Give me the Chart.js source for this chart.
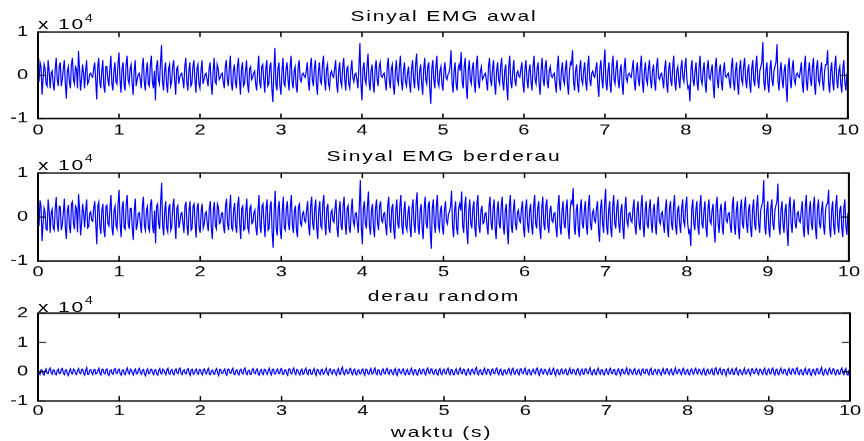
<!DOCTYPE html>
<html><head><meta charset="utf-8">
<script src="https://cdn.jsdelivr.net/npm/chart.js@4.4.1/dist/chart.umd.min.js"></script>
<style>
html,body{margin:0;padding:0;background:#fff;overflow:hidden;width:864px;height:441px;}
#wrap{position:absolute;left:0;top:0;width:864px;height:613px;transform:scaleY(0.7194);transform-origin:0 0;}
canvas{position:absolute;left:0;top:0;}
.t{position:absolute;font-family:"Liberation Sans",Arial,sans-serif;font-size:21px;line-height:22px;letter-spacing:1.8px;color:#000;white-space:nowrap;}
.c{left:0;width:888px;text-align:center;}
.e sup{font-size:14px;position:relative;top:-3px;letter-spacing:0;}
</style></head><body>
<div id="wrap">
<canvas id="c1" width="864" height="613"></canvas>
<canvas id="c2" width="864" height="613"></canvas>
<canvas id="c3" width="864" height="613"></canvas>
<div class="t c" style="top:11px">Sinyal EMG awal</div>
<div class="t c" style="top:206px">Sinyal EMG berderau</div>
<div class="t c" style="top:400px">derau random</div>
<div class="t" style="top:589px;left:0;width:883px;text-align:center">waktu (s)</div>
<div class="t e" style="top:17px;left:38px">x 10<sup>4</sup></div>
<div class="t e" style="top:212px;left:38px">x 10<sup>4</sup></div>
<div class="t e" style="top:409px;left:38px">x 10<sup>4</sup></div>
</div>
<script>
// samples are read every 0.0125 s: "main" readings at even steps, "mid" readings between them
const dt = 0.0125;
const xTicks = [0,1,2,3,4,5,6,7,8,9,10];

// Sinyal EMG awal (x 10^4)
const emgAwal = [
0.05,0.3,-0.45,0.25,-0.2,0.35,-0.3,0.1,-0.35,0.4,-0.25,0.3,-0.1,0.35,-0.54,0.2,-0.3,0.4,-0.2,0.15,0.56,-0.35,0.25,-0.3,0.35,-0.15,0.05,-0.05,0.3,-0.56,0.4,-0.3,0.35,-0.4,0.2,-0.25,0.45,-0.35,0.3,-0.2,
0.53,-0.4,0.3,-0.35,0.45,-0.2,0.25,-0.45,0.35,-0.1,0.05,-0.3,0.4,-0.35,0.3,-0.25,0.45,-0.3,-0.58,0.35,-0.2,0.70,-0.35,0.3,-0.4,0.25,-0.15,0.35,-0.45,0.2,-0.05,0.05,-0.3,0.4,-0.35,0.3,-0.2,0.35,-0.4,0.25,
-0.3,0.35,-0.1,0.05,-0.25,0.3,-0.45,0.4,-0.2,0.15,-0.05,0.05,-0.3,0.35,-0.25,0.45,-0.35,0.25,-0.3,0.4,-0.45,0.3,-0.2,0.35,-0.4,0.2,-0.05,0.1,-0.35,0.45,-0.3,0.25,-0.4,0.35,-0.2,0.3,-0.62,0.63,-0.35,0.3,
-0.45,0.4,-0.25,0.3,-0.35,0.45,-0.3,0.2,-0.4,0.35,-0.15,0.05,-0.05,0.3,-0.35,0.4,-0.25,0.35,-0.45,0.3,-0.2,0.45,-0.35,0.25,-0.3,0.1,-0.05,0.35,-0.4,0.3,-0.25,0.4,-0.35,0.2,-0.3,0.35,-0.15,0.05,-0.3,0.74,
-0.58,0.3,-0.2,0.5,-0.35,0.25,-0.4,0.35,-0.25,0.3,-0.05,0.05,-0.35,0.4,-0.3,0.25,-0.45,0.35,-0.2,0.45,-0.35,0.3,-0.25,0.2,-0.4,0.35,-0.3,0.5,-0.35,0.25,-0.45,0.4,-0.2,0.3,-0.66,0.35,-0.3,0.45,-0.25,0.2,
-0.35,0.3,-0.1,0.05,0.58,-0.4,0.3,-0.35,0.25,0.54,-0.3,0.4,-0.55,0.35,-0.2,0.3,-0.4,0.45,-0.3,0.2,-0.05,0.05,-0.35,0.4,-0.25,0.35,-0.45,0.3,-0.2,0.4,-0.35,0.25,-0.58,0.45,-0.3,0.35,-0.25,0.1,-0.05,0.3,
-0.4,0.35,-0.3,0.25,-0.35,0.45,-0.2,0.3,-0.45,0.4,-0.25,0.35,-0.3,0.2,-0.05,0.05,-0.4,0.45,-0.35,0.3,-0.2,0.35,-0.45,0.3,0.58,-0.35,0.25,-0.4,0.35,-0.2,0.3,-0.35,0.45,-0.25,0.1,-0.05,0.3,-0.5,0.35,-0.3,
0.6,-0.35,0.3,-0.4,0.45,-0.2,0.35,-0.3,0.25,-0.45,0.4,-0.15,0.05,-0.05,0.35,-0.35,0.3,-0.25,0.45,-0.4,0.3,-0.2,0.35,-0.3,0.25,-0.35,0.4,-0.1,0.05,-0.3,0.35,-0.4,0.3,-0.25,0.45,-0.35,0.2,-0.3,0.35,-0.15,
0.4,-0.3,-0.6,0.35,-0.25,0.3,-0.35,0.45,-0.2,0.3,-0.4,0.35,-0.1,0.25,-0.53,0.4,-0.3,0.25,-0.35,0.3,-0.05,0.05,-0.3,0.4,-0.35,0.3,-0.45,0.35,-0.2,0.4,-0.3,0.25,-0.4,0.35,-0.25,0.45,-0.3,0.2,0.77,-0.35,
0.3,-0.4,0.35,-0.25,0.2,0.72,-0.35,0.3,-0.3,0.25,-0.62,0.4,-0.3,0.35,-0.2,0.05,-0.05,0.3,-0.4,0.45,-0.35,0.3,-0.25,0.4,-0.45,0.35,-0.2,0.3,-0.35,0.25,0.58,-0.4,0.3,-0.35,0.45,-0.3,0.2,-0.4,0.35,-0.35,0.05
];
const emgAwalMid = [
-0.15,0.2,-0.1,0.15,-0.25,0.1,0.05,-0.2,0.15,-0.1,0.2,-0.25,0.15,-0.2,0.1,-0.15,0.25,-0.1,0.2,-0.3,0.15,-0.1,0.05,0.1,-0.2,0.02,-0.02,0.15,-0.1,0.2,-0.15,0.1,-0.25,0.2,-0.1,0.15,-0.2,0.1,-0.15,0.25,
-0.1,0.15,-0.2,0.25,-0.1,0.15,-0.2,0.1,-0.25,0.02,-0.1,0.2,-0.15,0.1,-0.2,0.25,-0.15,0.1,0.2,-0.1,0.3,-0.15,0.1,-0.2,0.15,-0.25,0.2,-0.1,0.15,-0.2,0.02,-0.1,0.2,-0.15,0.1,-0.25,0.2,-0.1,0.15,-0.2,
0.1,-0.2,0.02,-0.1,0.15,-0.2,0.1,-0.15,0.25,-0.1,0.02,-0.15,0.2,-0.1,0.15,-0.2,0.1,-0.15,0.2,-0.1,0.15,-0.25,0.1,-0.2,0.15,-0.1,0.05,-0.2,0.1,-0.15,0.2,-0.1,0.15,-0.25,0.2,-0.3,0.1,-0.2,0.15,-0.25,
0.1,-0.2,0.15,-0.1,0.2,-0.15,0.1,-0.25,0.2,-0.1,0.02,-0.02,0.1,-0.15,0.2,-0.1,0.15,-0.2,0.1,-0.15,0.25,-0.1,0.15,-0.2,0.05,-0.02,0.15,-0.2,0.1,-0.15,0.2,-0.1,0.15,-0.2,0.1,-0.05,0.02,-0.1,0.2,-0.2,
0.15,-0.1,0.2,-0.15,0.1,-0.2,0.15,-0.1,0.2,-0.02,0.02,-0.15,0.2,-0.1,0.15,-0.25,0.1,-0.1,0.2,-0.15,0.1,-0.15,0.05,-0.2,0.15,-0.1,0.25,-0.15,0.1,-0.2,0.15,-0.1,0.2,-0.3,0.15,-0.1,0.2,-0.15,0.1,-0.2,
0.1,-0.05,0.02,0.2,-0.15,0.1,-0.2,0.15,0.1,-0.15,0.2,-0.25,0.1,-0.1,0.15,-0.2,0.25,-0.15,0.1,-0.1,0.02,-0.15,0.2,-0.1,0.15,-0.2,0.1,-0.1,0.2,-0.15,0.1,-0.25,0.2,-0.15,0.1,-0.1,0.05,-0.02,0.15,-0.2,
0.15,-0.1,0.1,-0.15,0.2,-0.1,0.15,-0.2,0.15,-0.1,0.2,-0.15,0.1,-0.02,0.02,-0.2,0.2,-0.15,0.1,-0.1,0.15,-0.2,0.1,0.25,-0.15,0.1,-0.2,0.15,-0.1,0.1,-0.15,0.2,-0.1,0.05,-0.02,0.15,-0.25,0.15,-0.1,0.25,
-0.15,0.1,-0.2,0.2,-0.1,0.15,-0.1,0.1,-0.2,0.15,-0.05,0.02,-0.02,0.15,-0.15,0.1,-0.1,0.2,-0.15,0.1,-0.1,0.15,-0.1,0.1,-0.15,0.2,-0.05,0.02,-0.1,0.15,-0.2,0.15,-0.1,0.2,-0.15,0.1,-0.1,0.15,-0.05,0.2,
-0.1,-0.25,0.15,-0.1,0.1,-0.15,0.2,-0.1,0.1,-0.2,0.15,-0.05,0.1,-0.25,0.2,-0.1,0.1,-0.15,0.1,-0.02,0.02,-0.15,0.2,-0.15,0.1,-0.2,0.15,-0.1,0.2,-0.1,0.1,-0.2,0.15,-0.1,0.2,-0.1,0.1,0.3,-0.15,0.1,
-0.2,0.15,-0.1,0.1,0.3,-0.15,0.1,-0.1,0.1,-0.25,0.2,-0.1,0.15,-0.1,0.02,-0.02,0.1,-0.2,0.2,-0.15,0.1,-0.1,0.2,-0.2,0.15,-0.1,0.1,-0.15,0.1,0.25,-0.2,0.1,-0.15,0.2,-0.1,0.1,-0.2,0.15,-0.15,0.02
];

// Sinyal EMG berderau (x 10^4)
const emgBerderau = [
0.12,0.38,-0.55,0.2,-0.28,0.4,-0.36,0.18,-0.3,0.45,-0.33,0.24,-0.18,0.42,-0.5,0.27,-0.37,0.35,-0.28,0.2,0.52,-0.42,0.3,-0.24,0.4,-0.22,0.12,-0.1,0.36,-0.62,0.34,-0.38,0.3,-0.46,0.27,-0.2,0.5,-0.42,0.25,-0.27,
0.62,-0.46,0.36,-0.28,0.5,-0.27,0.2,-0.52,0.42,-0.17,0.1,-0.36,0.46,-0.3,0.24,-0.32,0.4,-0.37,-0.6,0.3,-0.27,0.78,-0.42,0.36,-0.34,0.3,-0.22,0.42,-0.5,0.26,-0.12,0.1,-0.36,0.35,-0.42,0.36,-0.26,0.3,-0.47,0.32,
-0.36,0.3,-0.16,0.12,-0.32,0.36,-0.5,0.34,-0.27,0.22,-0.12,0.1,-0.37,0.42,-0.3,0.5,-0.3,0.32,-0.36,0.46,-0.5,0.25,-0.27,0.42,-0.34,0.26,-0.12,0.16,-0.42,0.5,-0.36,0.3,-0.46,0.4,-0.26,0.36,-0.7,0.6,-0.42,0.36,
-0.5,0.46,-0.3,0.36,-0.3,0.5,-0.36,0.26,-0.46,0.3,-0.2,0.12,-0.12,0.36,-0.42,0.46,-0.3,0.4,-0.5,0.36,-0.26,0.5,-0.42,0.3,-0.36,0.16,-0.12,0.4,-0.46,0.36,-0.3,0.46,-0.4,0.26,-0.36,0.42,-0.2,0.1,-0.36,0.84,
-0.62,0.36,-0.26,0.58,-0.4,0.3,-0.46,0.4,-0.3,0.36,-0.12,0.1,-0.42,0.46,-0.36,0.3,-0.5,0.4,-0.26,0.5,-0.4,0.36,-0.3,0.26,-0.46,0.4,-0.36,0.56,-0.4,0.3,-0.5,0.46,-0.26,0.36,-0.72,0.4,-0.36,0.5,-0.3,0.26,
-0.4,0.36,-0.16,0.12,0.6,-0.46,0.36,-0.4,0.3,0.58,-0.36,0.46,-0.62,0.4,-0.26,0.36,-0.46,0.5,-0.36,0.26,-0.12,0.1,-0.4,0.46,-0.3,0.4,-0.5,0.36,-0.26,0.46,-0.4,0.3,-0.62,0.5,-0.36,0.4,-0.3,0.16,-0.12,0.36,
-0.46,0.4,-0.36,0.3,-0.4,0.5,-0.26,0.36,-0.5,0.46,-0.3,0.4,-0.36,0.26,-0.12,0.1,-0.46,0.5,-0.4,0.36,-0.26,0.4,-0.5,0.36,0.66,-0.4,0.3,-0.46,0.4,-0.26,0.36,-0.4,0.5,-0.3,0.16,-0.12,0.36,-0.56,0.4,-0.36,
0.64,-0.4,0.36,-0.46,0.5,-0.26,0.4,-0.36,0.3,-0.5,0.46,-0.2,0.1,-0.12,0.4,-0.4,0.36,-0.3,0.5,-0.46,0.36,-0.26,0.4,-0.36,0.3,-0.4,0.46,-0.16,0.12,-0.36,0.4,-0.46,0.36,-0.3,0.5,-0.4,0.26,-0.36,0.4,-0.2,
0.46,-0.36,-0.66,0.4,-0.3,0.36,-0.4,0.5,-0.26,0.36,-0.46,0.4,-0.16,0.3,-0.58,0.46,-0.36,0.3,-0.4,0.36,-0.12,0.1,-0.36,0.46,-0.4,0.36,-0.5,0.4,-0.26,0.46,-0.36,0.3,-0.46,0.4,-0.3,0.5,-0.36,0.26,0.84,-0.4,
0.36,-0.46,0.4,-0.3,0.26,0.76,-0.4,0.36,-0.36,0.3,-0.66,0.46,-0.36,0.4,-0.26,0.12,-0.12,0.36,-0.46,0.5,-0.4,0.36,-0.3,0.46,-0.5,0.4,-0.26,0.36,-0.4,0.3,0.62,-0.46,0.36,-0.4,0.5,-0.36,0.26,-0.46,0.4,-0.4,0.1
];
const emgBerderauMid = [
-0.2,0.25,-0.15,0.1,-0.3,0.15,0.1,-0.25,0.2,-0.15,0.25,-0.3,0.1,-0.25,0.15,-0.2,0.3,-0.15,0.25,-0.35,0.2,-0.15,0.1,0.15,-0.25,0.08,-0.08,0.2,-0.15,0.25,-0.2,0.15,-0.3,0.25,-0.15,0.2,-0.25,0.15,-0.2,0.3,
-0.15,0.2,-0.25,0.3,-0.15,0.2,-0.25,0.15,-0.3,0.08,-0.15,0.25,-0.2,0.15,-0.25,0.3,-0.2,0.15,0.25,-0.15,0.35,-0.2,0.15,-0.25,0.2,-0.3,0.25,-0.15,0.2,-0.25,0.08,-0.15,0.25,-0.2,0.15,-0.3,0.25,-0.15,0.2,-0.25,
0.15,-0.25,0.08,-0.15,0.2,-0.25,0.15,-0.2,0.3,-0.15,0.08,-0.2,0.25,-0.15,0.2,-0.25,0.15,-0.2,0.25,-0.15,0.2,-0.3,0.15,-0.25,0.2,-0.15,0.1,-0.25,0.15,-0.2,0.25,-0.15,0.2,-0.3,0.25,-0.35,0.15,-0.25,0.2,-0.3,
0.15,-0.25,0.2,-0.15,0.25,-0.2,0.15,-0.3,0.25,-0.15,0.08,-0.08,0.15,-0.2,0.25,-0.15,0.2,-0.25,0.15,-0.2,0.3,-0.15,0.2,-0.25,0.1,-0.08,0.2,-0.25,0.15,-0.2,0.25,-0.15,0.2,-0.25,0.15,-0.1,0.08,-0.15,0.25,-0.25,
0.2,-0.15,0.25,-0.2,0.15,-0.25,0.2,-0.15,0.25,-0.08,0.08,-0.2,0.25,-0.15,0.2,-0.3,0.15,-0.15,0.25,-0.2,0.15,-0.2,0.1,-0.25,0.2,-0.15,0.3,-0.2,0.15,-0.25,0.2,-0.15,0.25,-0.35,0.2,-0.15,0.25,-0.2,0.15,-0.25,
0.15,-0.1,0.08,0.25,-0.2,0.15,-0.25,0.2,0.15,-0.2,0.25,-0.3,0.15,-0.15,0.2,-0.25,0.3,-0.2,0.15,-0.15,0.08,-0.2,0.25,-0.15,0.2,-0.25,0.15,-0.15,0.25,-0.2,0.15,-0.3,0.25,-0.2,0.15,-0.15,0.1,-0.08,0.2,-0.25,
0.2,-0.15,0.15,-0.2,0.25,-0.15,0.2,-0.25,0.2,-0.15,0.25,-0.2,0.15,-0.08,0.08,-0.25,0.25,-0.2,0.15,-0.15,0.2,-0.25,0.15,0.3,-0.2,0.15,-0.25,0.2,-0.15,0.15,-0.2,0.25,-0.15,0.1,-0.08,0.2,-0.3,0.2,-0.15,0.3,
-0.2,0.15,-0.25,0.25,-0.15,0.2,-0.15,0.15,-0.25,0.2,-0.1,0.08,-0.08,0.2,-0.2,0.15,-0.15,0.25,-0.2,0.15,-0.15,0.2,-0.15,0.15,-0.2,0.25,-0.1,0.08,-0.15,0.2,-0.25,0.2,-0.15,0.25,-0.2,0.15,-0.15,0.2,-0.1,0.25,
-0.15,-0.3,0.2,-0.15,0.15,-0.2,0.25,-0.15,0.15,-0.25,0.2,-0.1,0.15,-0.3,0.25,-0.15,0.15,-0.2,0.15,-0.08,0.08,-0.2,0.25,-0.2,0.15,-0.25,0.2,-0.15,0.25,-0.15,0.15,-0.25,0.2,-0.15,0.25,-0.15,0.15,0.35,-0.2,0.15,
-0.25,0.2,-0.15,0.15,0.35,-0.2,0.15,-0.15,0.15,-0.3,0.25,-0.15,0.2,-0.15,0.08,-0.08,0.15,-0.25,0.25,-0.2,0.15,-0.15,0.25,-0.25,0.2,-0.15,0.15,-0.2,0.15,0.3,-0.25,0.15,-0.2,0.25,-0.15,0.15,-0.25,0.2,-0.2,0.08
];

// derau random (x 10^4)
const derau = [
0.08,-0.1,0.06,-0.12,0.1,-0.07,0.13,-0.09,0.05,-0.11,0.09,-0.06,0.12,-0.1,0.07,-0.13,0.1,-0.08,0.06,-0.1,0.11,-0.07,0.09,-0.12,0.14,-0.09,0.07,-0.1,0.08,-0.06,0.12,-0.11,0.09,-0.08,0.1,-0.13,0.07,-0.09,0.11,-0.06,
0.09,-0.12,0.07,-0.1,0.13,-0.08,0.06,-0.11,0.1,-0.07,0.12,-0.09,0.08,-0.14,0.1,-0.06,0.09,-0.1,0.07,-0.12,0.11,-0.08,0.06,-0.1,0.12,-0.09,0.08,-0.11,0.1,-0.07,0.13,-0.1,0.07,-0.08,0.11,-0.12,0.09,-0.06,0.1,-0.09,
0.07,-0.11,0.1,-0.08,0.12,-0.1,0.06,-0.09,0.11,-0.13,0.08,-0.07,0.1,-0.12,0.09,-0.06,0.12,-0.1,0.07,-0.11,0.09,-0.08,0.13,-0.1,0.06,-0.09,0.11,-0.07,0.1,-0.12,0.08,-0.1,0.07,-0.09,0.12,-0.11,0.09,-0.08,0.1,-0.07,
0.11,-0.09,0.07,-0.12,0.1,-0.08,0.13,-0.1,0.06,-0.11,0.09,-0.07,0.12,-0.1,0.08,-0.09,0.11,-0.13,0.07,-0.1,0.09,-0.06,0.12,-0.11,0.1,-0.08,0.07,-0.12,0.11,-0.09,0.16,-0.1,0.08,-0.07,0.12,-0.1,0.09,-0.11,0.07,-0.08,
0.1,-0.12,0.08,-0.09,0.11,-0.07,0.13,-0.1,0.06,-0.11,0.1,-0.08,0.12,-0.09,0.07,-0.1,0.11,-0.13,0.09,-0.07,0.1,-0.11,0.08,-0.09,0.12,-0.1,0.07,-0.12,0.1,-0.08,0.09,-0.11,0.13,-0.07,0.1,-0.09,0.08,-0.12,0.11,-0.1,
0.09,-0.08,0.12,-0.1,0.07,-0.11,0.1,-0.09,0.13,-0.07,0.08,-0.12,0.1,-0.1,0.09,-0.08,0.15,-0.11,0.07,-0.1,0.12,-0.09,0.08,-0.11,0.1,-0.07,0.13,-0.1,0.09,-0.12,0.07,-0.08,0.11,-0.1,0.12,-0.09,0.08,-0.11,0.1,-0.07,
0.12,-0.1,0.08,-0.11,0.09,-0.07,0.13,-0.12,0.1,-0.08,0.07,-0.1,0.11,-0.09,0.12,-0.13,0.08,-0.1,0.1,-0.07,0.09,-0.11,0.12,-0.08,0.07,-0.1,0.11,-0.12,0.09,-0.09,0.1,-0.07,0.13,-0.11,0.08,-0.1,0.12,-0.09,0.07,-0.11,
0.1,-0.09,0.12,-0.07,0.08,-0.11,0.1,-0.12,0.09,-0.08,0.13,-0.1,0.07,-0.09,0.11,-0.1,0.08,-0.12,0.1,-0.07,0.09,-0.11,0.12,-0.1,0.08,-0.09,0.07,-0.12,0.11,-0.08,0.1,-0.1,0.09,-0.11,0.13,-0.07,0.08,-0.1,0.12,-0.09,
0.08,-0.11,0.1,-0.09,0.12,-0.08,0.07,-0.1,0.11,-0.12,0.09,-0.07,0.1,-0.11,0.14,-0.09,0.12,-0.1,0.08,-0.13,0.11,-0.08,0.1,-0.09,0.13,-0.11,0.07,-0.1,0.12,-0.08,0.09,-0.12,0.1,-0.07,0.11,-0.1,0.08,-0.09,0.12,-0.11,
0.1,-0.08,0.13,-0.11,0.09,-0.1,0.12,-0.07,0.08,-0.12,0.11,-0.09,0.1,-0.08,0.14,-0.1,0.07,-0.11,0.12,-0.09,0.1,-0.13,0.08,-0.1,0.11,-0.07,0.15,-0.12,0.09,-0.1,0.12,-0.08,0.1,-0.11,0.07,-0.09,0.13,-0.1,0.11,-0.12,0.06
];
const derauMid = [
-0.05,0.07,-0.09,0.04,-0.06,0.08,-0.04,0.07,-0.08,0.05,-0.07,0.09,-0.05,0.06,-0.08,0.04,-0.06,0.09,-0.07,0.05,-0.04,0.08,-0.06,0.05,-0.09,0.06,-0.04,0.07,-0.08,0.05,-0.06,0.08,-0.05,0.07,-0.09,0.04,-0.06,0.08,-0.05,0.07,
-0.07,0.05,-0.08,0.06,-0.04,0.09,-0.06,0.05,-0.07,0.08,-0.05,0.06,-0.09,0.04,-0.07,0.08,-0.05,0.06,-0.08,0.05,-0.06,0.09,-0.04,0.07,-0.06,0.05,-0.08,0.06,-0.05,0.09,-0.07,0.04,-0.06,0.08,-0.05,0.07,-0.09,0.05,-0.06,0.08,
-0.06,0.08,-0.05,0.07,-0.09,0.04,-0.07,0.06,-0.05,0.08,-0.06,0.05,-0.07,0.09,-0.04,0.06,-0.08,0.05,-0.07,0.06,-0.05,0.08,-0.06,0.04,-0.09,0.07,-0.05,0.06,-0.08,0.05,-0.07,0.09,-0.04,0.06,-0.05,0.08,-0.07,0.05,-0.06,0.09,
-0.08,0.05,-0.06,0.09,-0.05,0.07,-0.04,0.08,-0.06,0.05,-0.09,0.06,-0.05,0.07,-0.08,0.04,-0.06,0.08,-0.05,0.07,-0.09,0.05,-0.06,0.08,-0.04,0.07,-0.06,0.05,-0.08,0.1,-0.06,0.05,-0.07,0.09,-0.05,0.06,-0.08,0.04,-0.07,0.06,
-0.05,0.09,-0.06,0.04,-0.08,0.06,-0.05,0.07,-0.09,0.05,-0.06,0.08,-0.04,0.07,-0.06,0.05,-0.08,0.09,-0.05,0.06,-0.07,0.04,-0.08,0.06,-0.05,0.07,-0.09,0.05,-0.06,0.08,-0.05,0.07,-0.04,0.09,-0.06,0.05,-0.08,0.06,-0.07,0.05,
-0.06,0.07,-0.05,0.08,-0.09,0.04,-0.06,0.07,-0.05,0.09,-0.08,0.05,-0.06,0.07,-0.04,0.1,-0.07,0.05,-0.08,0.06,-0.05,0.09,-0.04,0.07,-0.06,0.08,-0.05,0.06,-0.09,0.05,-0.07,0.06,-0.04,0.08,-0.06,0.05,-0.07,0.09,-0.05,0.06,
-0.07,0.06,-0.08,0.05,-0.04,0.09,-0.06,0.07,-0.05,0.08,-0.06,0.04,-0.09,0.07,-0.05,0.06,-0.08,0.05,-0.07,0.06,-0.09,0.04,-0.06,0.08,-0.05,0.07,-0.06,0.05,-0.08,0.09,-0.04,0.06,-0.07,0.05,-0.08,0.06,-0.05,0.07,-0.09,0.05,
-0.05,0.08,-0.06,0.07,-0.09,0.05,-0.04,0.08,-0.06,0.05,-0.07,0.09,-0.05,0.06,-0.08,0.04,-0.07,0.06,-0.05,0.08,-0.06,0.07,-0.09,0.05,-0.04,0.08,-0.06,0.05,-0.07,0.09,-0.05,0.06,-0.08,0.04,-0.06,0.07,-0.05,0.08,-0.06,0.05,
-0.08,0.06,-0.05,0.07,-0.04,0.09,-0.06,0.05,-0.08,0.06,-0.07,0.05,-0.09,0.1,-0.05,0.07,-0.06,0.08,-0.04,0.06,-0.07,0.05,-0.09,0.08,-0.05,0.06,-0.07,0.04,-0.08,0.06,-0.05,0.09,-0.06,0.07,-0.05,0.08,-0.04,0.06,-0.07,0.05,
-0.06,0.09,-0.05,0.07,-0.08,0.06,-0.04,0.08,-0.07,0.05,-0.06,0.09,-0.05,0.1,-0.07,0.06,-0.08,0.05,-0.06,0.07,-0.09,0.06,-0.05,0.1,-0.07,0.06,-0.08,0.05,-0.06,0.07,-0.05,0.09,-0.06,0.05,-0.08,0.07,-0.05,0.06,-0.09,0.05
];

const H = 613, XH = 40, YW = 38, XT = 7, YT = 8;
const FONT = {family: '"Liberation Sans", Arial, sans-serif', size: 20};

const framePlugin = {
  id: 'frame',
  afterDatasetsDraw(chart) {
    const {ctx, chartArea: a, scales: {x, y}} = chart;
    ctx.save();
    ctx.strokeStyle = '#000';
    ctx.lineWidth = 1.5;
    ctx.beginPath();
    x.ticks.forEach(t => {
      const px = x.getPixelForValue(t.value);
      ctx.moveTo(px, a.bottom); ctx.lineTo(px, a.bottom - XT);
      ctx.moveTo(px, a.top); ctx.lineTo(px, a.top + XT);
    });
    y.ticks.forEach(t => {
      const py = y.getPixelForValue(t.value);
      ctx.moveTo(a.left, py); ctx.lineTo(a.left + YT, py);
      ctx.moveTo(a.right, py); ctx.lineTo(a.right - YT, py);
    });
    ctx.stroke();
    ctx.lineWidth = 2;
    ctx.strokeRect(a.left, a.top, a.right - a.left, a.bottom - a.top);
    ctx.restore();
  }
};

// interleave the main readings with the readings taken between them
function samples(main, mid) {
  const out = [];
  main.forEach((v, i) => {
    out.push({x: (2 * i) * dt, y: v});
    if (i < mid.length) out.push({x: (2 * i + 1) * dt, y: mid[i]});
  });
  return out;
}

function makeChart(id, pts, yMin, yMax, top, bottom, xPad) {
  return new Chart(document.getElementById(id), {
    type: 'line',
    data: {datasets: [{data: pts, borderColor: '#0000ff', borderWidth: 1.2, pointRadius: 0, tension: 0, fill: false}]},
    options: {
      responsive: false, animation: false, devicePixelRatio: 1,
      events: [],
      layout: {padding: {top: top, bottom: H - bottom - XH, left: 0, right: 14}},
      plugins: {legend: {display: false}, tooltip: {enabled: false}, title: {display: false}},
      scales: {
        x: {
          type: 'linear', min: 0, max: 10,
          afterBuildTicks: s => { s.ticks = xTicks.map(v => ({value: v})); },
          afterFit: s => { s.height = XH; },
          grid: {display: false, drawTicks: false},
          border: {display: false},
          ticks: {font: FONT, color: '#000', padding: xPad, maxRotation: 0, autoSkip: false}
        },
        y: {
          min: yMin, max: yMax,
          afterFit: s => { s.width = YW; },
          grid: {display: false, drawTicks: false},
          border: {display: false},
          ticks: {font: FONT, color: '#000', padding: 10, stepSize: 1}
        }
      }
    },
    plugins: [framePlugin]
  });
}

makeChart('c1', samples(emgAwal, emgAwalMid), -1, 1, 44.5, 164.7, 5);
makeChart('c2', samples(emgBerderau, emgBerderauMid), -1, 1, 240.5, 362.8, 4);
makeChart('c3', samples(derau, derauMid), -1, 2, 435.3, 557.4, 2);
</script>
</body></html>
